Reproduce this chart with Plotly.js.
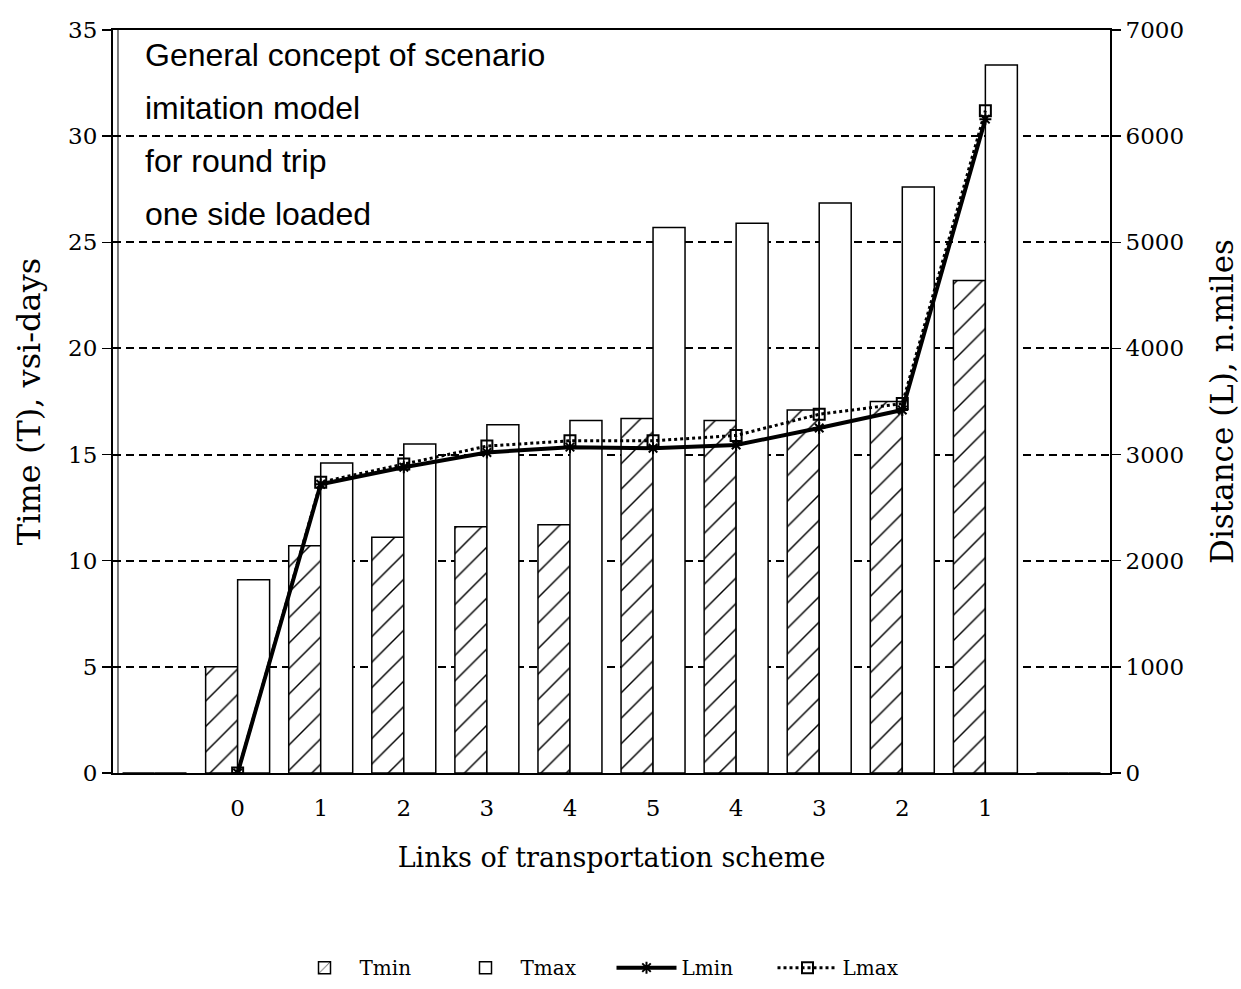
<!DOCTYPE html>
<html>
<head>
<meta charset="utf-8">
<script src="https://cdn.plot.ly/plotly-3.0.1.min.js"></script>
<style>html,body{margin:0;padding:0;background:#fff;}#chart{width:1241px;height:989px;}</style>
</head>
<body>
<div id="chart"></div>
<script>
// Category slots (first and last are empty)
var slots = [0, 1, 2, 3, 4, 5, 6, 7, 8, 9, 10, 11];
var slotLabels = ["", "0", "1", "2", "3", "4", "5", "4", "3", "2", "1", ""];
var boundaries = [-0.5, 0.5, 1.5, 2.5, 3.5, 4.5, 5.5, 6.5, 7.5, 8.5, 9.5, 10.5, 11.5];

// Time values (left axis, vsi-days)
var Tmin = [0, 5.0, 10.7, 11.1, 11.6, 11.7, 16.7, 16.6, 17.1, 17.5, 23.2, 0];
var Tmax = [0, 9.1, 14.6, 15.5, 16.4, 16.6, 25.7, 25.9, 26.85, 27.6, 33.35, 0];

// Distance values (right axis, n.miles)
var lineSlots = [1, 2, 3, 4, 5, 6, 7, 8, 9, 10];
var Lmin = [0, 2720, 2880, 3020, 3070, 3060, 3090, 3250, 3420, 6160];
var Lmax = [0, 2740, 2910, 3080, 3130, 3130, 3180, 3380, 3480, 6240];

var serif = "DejaVu Serif, Liberation Serif, serif";

var traces = [
  {
    type: "bar", name: "Tmin", x: slots, y: Tmin,
    marker: {color: "#ffffff", line: {color: "#000", width: 1.5},
             pattern: {shape: "/", fgcolor: "#000", bgcolor: "#fff", size: 18, solidity: 0.08}},
    xaxis: "x", yaxis: "y"
  },
  {
    type: "bar", name: "Tmax", x: slots, y: Tmax,
    marker: {color: "#ffffff", line: {color: "#000", width: 1.5}},
    xaxis: "x", yaxis: "y"
  },
  {
    type: "scatter", mode: "lines+markers", name: "Lmin", x: lineSlots, y: Lmin,
    line: {color: "#000", width: 4},
    marker: {symbol: "asterisk-open", size: 10, color: "#000", line: {color: "#000", width: 2}},
    xaxis: "x", yaxis: "y2"
  },
  {
    type: "scatter", mode: "lines+markers", name: "Lmax", x: lineSlots, y: Lmax,
    line: {color: "#000", width: 3, dash: "dot"},
    marker: {symbol: "square-open", size: 11, color: "#000", line: {color: "#000", width: 2}},
    xaxis: "x", yaxis: "y2"
  }
];

var annLines = ["General concept of scenario", "imitation model", "for round trip", "one side loaded"];
var annY = [55, 108, 161, 214];
var annotations = annLines.map(function (t, i) {
  return {
    text: t, xref: "paper", yref: "paper",
    x: (143 - 113) / 997, y: (773 - annY[i]) / 743,
    xanchor: "left", yanchor: "middle", showarrow: false,
    font: {family: "Liberation Sans, Arial, sans-serif", size: 32, color: "#000"}
  };
});

var layout = {
  width: 1241, height: 989,
  margin: {l: 113, r: 131, t: 30, b: 216, autoexpand: false},
  paper_bgcolor: "#fff", plot_bgcolor: "#fff",
  barmode: "group", bargap: 0.23, bargroupgap: 0,
  showlegend: true,
  legend: {orientation: "h", x: 0.5, xanchor: "center", y: -0.262, yanchor: "middle",
           font: {family: serif, size: 20, color: "#000"}, itemwidth: 60,
           entrywidth: 86, traceorder: "normal"},
  xaxis: {
    range: [-0.5, 11.5], tickmode: "array", tickvals: slots, ticktext: slotLabels,
    ticks: "outside", ticklen: 13, tickcolor: "rgba(0,0,0,0)",
    showgrid: false, zeroline: false, showline: true, linecolor: "#000", linewidth: 2,
    mirror: true, automargin: false,
    tickfont: {family: serif, size: 23, color: "#000"},
    title: {text: "Links of transportation scheme", font: {family: serif, size: 27, color: "#000"}, standoff: 29}
  },
  xaxis2: {
    range: [-0.5, 11.5], overlaying: "x", anchor: "y", side: "bottom",
    tickmode: "array", tickvals: boundaries, ticks: "outside", ticklen: 16, tickwidth: 1.5,
    tickcolor: "#000", showticklabels: false, showgrid: false, zeroline: false, showline: false,
    automargin: false
  },
  yaxis: {
    range: [0, 35], tickmode: "array", tickvals: [0, 5, 10, 15, 20, 25, 30, 35],
    ticks: "outside", ticklen: 9, tickcolor: "#000", tickwidth: 1.5,
    showgrid: true, gridcolor: "#000", gridwidth: 2, griddash: "8px,5px",
    zeroline: false, showline: true, linecolor: "#000", linewidth: 2, automargin: false,
    tickfont: {family: serif, size: 23, color: "#000"},
    title: {text: "Time (T), vsi-days", font: {family: serif, size: 32, color: "#000"}, standoff: 18}
  },
  yaxis2: {
    range: [0, 7000], overlaying: "y", side: "right",
    tickmode: "array", tickvals: [0, 1000, 2000, 3000, 4000, 5000, 6000, 7000],
    ticks: "outside", ticklen: 9, tickcolor: "#000", tickwidth: 1.5,
    showgrid: false, zeroline: false, showline: true, linecolor: "#000", linewidth: 2, automargin: false,
    tickfont: {family: serif, size: 23, color: "#000"},
    title: {text: "Distance (L), n.miles", font: {family: serif, size: 31, color: "#000"}, standoff: 28}
  },
  annotations: annotations,
  shapes: [
    {type: "line", xref: "paper", yref: "paper", x0: 0.005, x1: 0.005, y0: 0, y1: 1,
     line: {color: "#000", width: 1}}
  ]
};

Plotly.newPlot("chart", traces, layout, {displayModeBar: false, staticPlot: true});
</script>
</body>
</html>
